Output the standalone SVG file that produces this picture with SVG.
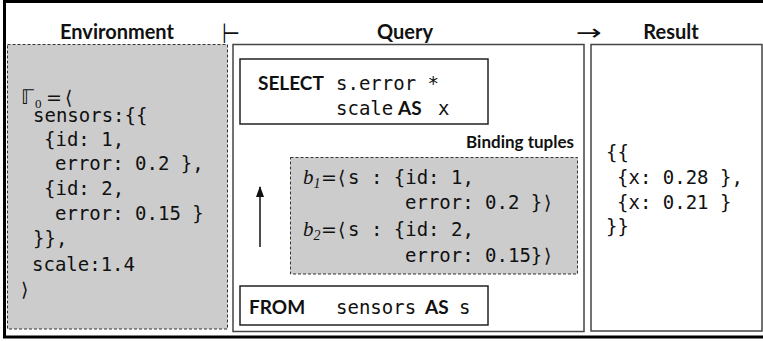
<svg xmlns="http://www.w3.org/2000/svg" width="763" height="341" viewBox="0 0 763 341">
<defs>
<style>
.mono{font-family:"DejaVu Sans Mono","Liberation Mono",monospace;font-size:19px;fill:#111}
.kw{font-family:Lato,"Liberation Sans",sans-serif;font-weight:bold;font-size:19px;fill:#111}
.hdr{font-family:Lato,"Liberation Sans",sans-serif;font-weight:bold;font-size:20px;fill:#111;text-anchor:middle}
.sub{font-family:Lato,"Liberation Sans",sans-serif;font-weight:bold;font-size:17px;fill:#111;text-anchor:end}
.math{font-family:"Liberation Serif","DejaVu Serif",serif;font-style:italic;font-size:21px;fill:#111}
.up{font-family:"Liberation Serif","DejaVu Serif",serif;font-size:13px;font-style:normal}
.sym{font-family:"DejaVu Sans",sans-serif;font-size:19px;fill:#111}
.shade{fill:#cccccc;stroke:#333;stroke-width:1;stroke-dasharray:3 2}
.panel{fill:#fff;stroke:#444;stroke-width:1.5}
.clause{fill:#fff;stroke:#222;stroke-width:1.5}
</style>
<marker id="ah" markerWidth="12" markerHeight="10" refX="10" refY="5" orient="auto" markerUnits="userSpaceOnUse" viewBox="0 0 12 10">
<path d="M0,1 L11,5 L0,9 Z" fill="#111"/>
</marker>
</defs>
<rect x="0" y="0" width="763" height="341" fill="#fff"/>
<rect id="frame" x="4.5" y="1.5" width="770" height="335.5" fill="none" stroke="#000" stroke-width="3"/>

<g id="environment">
<text class="hdr" x="117" y="39">Environment</text>
<rect class="shade" x="7.5" y="44.5" width="220" height="284.5"/>
<text class="sym" x="21" y="104"><tspan style="font-size:20px">ℾ</tspan><tspan class="up" x="35" y="108">0</tspan><tspan x="46" y="104">=</tspan><tspan x="65">⟨</tspan></text>
<text class="mono" x="33" y="122">sensors:{{</text>
<text class="mono" x="44" y="146">{id: 1,</text>
<text class="mono" x="55" y="170">error: 0.2 },</text>
<text class="mono" x="44" y="195">{id: 2,</text>
<text class="mono" x="55" y="220">error: 0.15 }</text>
<text class="mono" x="33" y="245">}},</text>
<text class="mono" x="32" y="271">scale:1.4</text>
<text class="sym" x="21" y="296">⟩</text>
</g>

<g id="turnstile">
<text class="sym" x="222" y="43" style="font-size:28px" textLength="18" lengthAdjust="spacingAndGlyphs">⊢</text>
</g>

<g id="query">
<text class="hdr" x="405" y="39">Query</text>
<rect class="panel" x="233" y="44.5" width="351" height="287"/>
<g id="select">
<rect class="clause" x="240" y="59" width="248" height="65"/>
<text class="kw" x="258" y="90">SELECT</text>
<text class="mono" x="336" y="90">s.error *</text>
<text class="mono" x="336" y="115">scale</text>
<text class="kw" x="398" y="115">AS</text>
<text class="mono" x="438" y="115">x</text>
</g>
<g id="bindings">
<text class="sub" x="574" y="148">Binding tuples</text>
<rect class="shade" x="290.5" y="157.5" width="287" height="116.5"/>
<text class="math" x="303" y="184">b<tspan style="font-size:14px" dy="4">1</tspan></text>
<text class="sym" x="321" y="184">=</text>
<text class="sym" x="338" y="184">⟨</text>
<text class="mono" x="348" y="184">s : {id: 1,</text>
<text class="mono" x="405" y="209">error: 0.2 }</text>
<text class="sym" x="544" y="209">⟩</text>
<text class="math" x="303" y="236">b<tspan style="font-size:14px" dy="4">2</tspan></text>
<text class="sym" x="321" y="236">=</text>
<text class="sym" x="338" y="236">⟨</text>
<text class="mono" x="348" y="236">s : {id: 2,</text>
<text class="mono" x="405" y="262">error: 0.15}</text>
<text class="sym" x="544" y="262">⟩</text>
</g>
<g id="from">
<rect class="clause" x="240" y="286" width="248" height="39"/>
<text class="kw" x="249" y="314">FROM</text>
<text class="mono" x="336" y="314">sensors</text>
<text class="kw" x="425" y="314">AS</text>
<text class="mono" x="459" y="314">s</text>
</g>
</g>

<g id="arrow-to-result">
<text class="sym" x="576" y="40" style="font-size:22px" textLength="26" lengthAdjust="spacingAndGlyphs">→</text>
</g>

<g id="result">
<text class="hdr" x="671" y="39">Result</text>
<rect class="panel" x="591" y="44.5" width="171" height="286.5" stroke="#777"/>
<text class="mono" x="606" y="159">{{</text>
<text class="mono" x="617" y="184">{x: 0.28 },</text>
<text class="mono" x="617" y="209">{x: 0.21 }</text>
<text class="mono" x="606" y="233">}}</text>
</g>

<g id="connectors">
<line x1="260" y1="247" x2="260" y2="187" stroke="#111" stroke-width="1.5" marker-end="url(#ah)"/>
</g>
</svg>
